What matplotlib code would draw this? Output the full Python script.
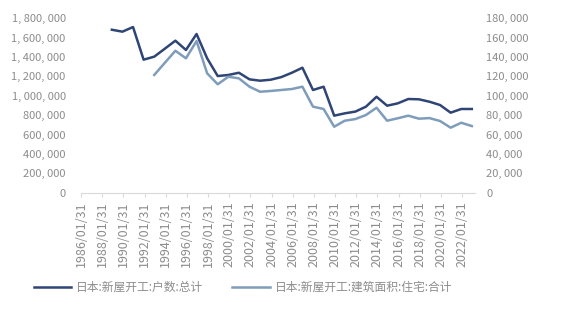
import datetime as dt
import matplotlib
matplotlib.use("Agg")
import matplotlib.pyplot as plt
import matplotlib.dates as mdates
from matplotlib.ticker import FuncFormatter, MultipleLocator

plt.rcParams['font.family'] = ['Noto Sans CJK SC', 'DejaVu Sans']

# yearly data, dated at year end
years_units = list(range(1988, 2023))
units = [1682000, 1662000, 1710000, 1373000, 1404000, 1486000, 1569000, 1473000,
         1638000, 1387000, 1204000, 1215000, 1238000, 1170000, 1156000, 1166000,
         1193000, 1238000, 1290000, 1060000, 1094000, 795000, 819000, 837000,
         888000, 990000, 898000, 922000, 967000, 964000, 939000, 905000,
         826000, 864000, 864000]

years_area = list(range(1992, 2023))
area = [121500, 134000, 146500, 138700, 156500, 123200, 111900, 119700,
        118000, 109400, 104200, 105000, 106000, 107000, 109400, 88800,
        86400, 68100, 74300, 76000, 80200, 87700, 74300, 76800,
        79500, 76400, 77000, 74000, 67100, 72200, 68800]

tick_years = list(range(1986, 2023, 2))

name_units = "日本:新屋开工:户数:总计"
name_area = "日本:新屋开工:建筑面积:住宅:合计"

dark = "#2f4575"
light = "#7f9cbb"
grey = "#8c8c8c"

fig = plt.figure(figsize=(5.76, 3.18), dpi=100)
ax = fig.add_axes([81 / 576, 1 - 192.7 / 318, (475 - 81) / 576, (192.7 - 18.3) / 318])
ax2 = ax.twinx()

d_units = [dt.datetime(y, 12, 31) for y in years_units]
d_area = [dt.datetime(y, 12, 31) for y in years_area]
l1, = ax.plot(d_units, units, color=dark, lw=1.8)
l2, = ax2.plot(d_area, area, color=light, lw=1.8)

ax.set_xlim(dt.datetime(1986, 1, 31), dt.datetime(2023, 4, 20))
ax.set_ylim(0, 1800000)
ax2.set_ylim(0, 180000)
ax.yaxis.set_major_locator(MultipleLocator(200000))
ax2.yaxis.set_major_locator(MultipleLocator(20000))

fmt = FuncFormatter(lambda v, p: "{:,}".format(int(v)).replace(",", ", "))
ax.yaxis.set_major_formatter(fmt)
ax2.yaxis.set_major_formatter(fmt)

ax.set_xticks([dt.datetime(y, 1, 31) for y in tick_years])
ax.xaxis.set_major_formatter(mdates.DateFormatter("%Y/%m/%d"))
plt.setp(ax.get_xticklabels(), rotation=90)

for a in (ax, ax2):
    for s in a.spines.values():
        s.set_visible(False)
ax.tick_params(axis='y', length=0, labelsize=8, labelcolor=grey, pad=11)
ax2.tick_params(axis='y', length=0, labelsize=8, labelcolor=grey, pad=8)
ax.spines['bottom'].set_visible(True)
ax.spines['bottom'].set_color("#d9d9d9")
ax.tick_params(axis='x', length=3, color="#d9d9d9", labelsize=9, labelcolor=grey, pad=3)

fig.legend([l1, l2], [name_units, name_area], loc='center left', bbox_to_anchor=(0.05, 0.097),
           ncol=2, frameon=False, fontsize=8.5, labelcolor=grey, handlelength=3.2,
           columnspacing=2.4, handletextpad=0.42, borderaxespad=0)

fig.savefig("out.png", dpi=100)
